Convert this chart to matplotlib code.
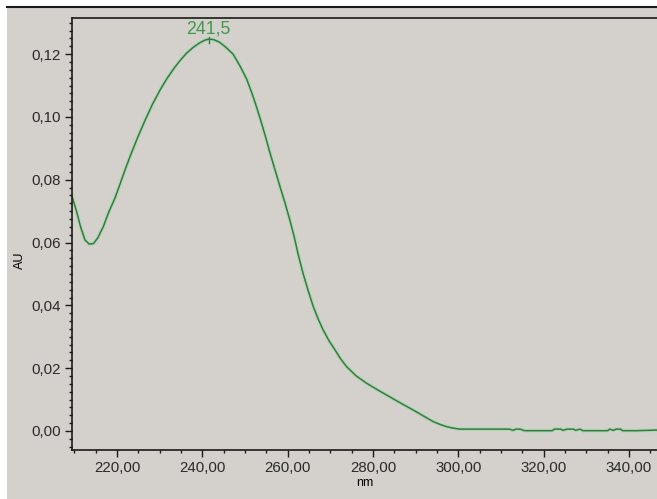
import matplotlib
matplotlib.use("Agg")
import matplotlib.pyplot as plt
from matplotlib.patches import Rectangle
from matplotlib.lines import Line2D
from matplotlib.ticker import MultipleLocator, FuncFormatter

# UV absorbance spectrum (wavelength in nm, absorbance in AU)
wavelength = [209.5, 210.5, 211.5, 212.5, 213.5, 214.5, 215.5, 216.8, 218.0, 219.5,
              220.7, 222.0, 223.4, 225.0, 226.6, 228.3, 230.1, 231.6, 233.2, 234.8,
              236.3, 237.9, 239.4, 240.5, 241.5, 242.7, 244.0, 245.5, 247.2, 248.8,
              250.4, 251.5, 252.5, 253.5, 254.7, 255.8, 257.0, 258.2, 259.4, 260.5,
              261.5, 262.5, 263.6, 264.8, 266.0, 267.2, 268.3, 269.7, 271.1, 272.4,
              273.8, 276.0, 278.5, 281.2, 283.9, 286.6, 289.4, 291.8, 294.1, 295.7,
              297.2, 298.8, 300.3, 302.0, 306.0, 310.0, 312.0, 312.8, 313.5, 314.5,
              315.5, 318.0, 322.0, 322.5, 324.0, 324.5, 325.5, 327.0, 327.5, 328.5,
              329.2, 332.0, 335.0, 335.5, 336.3, 337.0, 338.0, 338.5, 342.0, 346.6]
absorbance = [0.0745, 0.0700, 0.0648, 0.0608, 0.0595, 0.0597, 0.0615, 0.0651, 0.0695, 0.0741,
              0.0786, 0.0836, 0.0886, 0.0940, 0.0990, 0.1040, 0.1086, 0.1120, 0.1152, 0.1180,
              0.1203, 0.1222, 0.1236, 0.1244, 0.1248, 0.1246, 0.1238, 0.1222, 0.1200, 0.1163,
              0.1120, 0.1080, 0.1040, 0.0997, 0.0942, 0.0888, 0.0833, 0.0778, 0.0725, 0.0672,
              0.0620, 0.0560, 0.0502, 0.0447, 0.0396, 0.0355, 0.0322, 0.0287, 0.0258, 0.0230,
              0.0205, 0.0176, 0.0152, 0.0130, 0.0109, 0.0088, 0.0067, 0.0048, 0.0030, 0.0021,
              0.0014, 0.0009, 0.0006, 0.0006, 0.0006, 0.0006, 0.0006, 0.0002, 0.0006, 0.0006,
              0.0001, 0.0001, 0.0001, 0.0006, 0.0006, 0.0002, 0.0006, 0.0006, 0.0002, 0.0006,
              0.0001, 0.0001, 0.0001, 0.0006, 0.0002, 0.0006, 0.0006, 0.0001, 0.0001, 0.0003]
peak_nm = 241.5
peak_au = 0.1248
peak_label = "241,5"

bg = "#d4d1cc"
line_core = "#357a40"
line_halo = "#a9d8ae"
label_green = "#43984f"

plt.rcParams["font.family"] = ["Liberation Sans", "DejaVu Sans"]

W, H = 657, 499
fig = plt.figure(figsize=(W / 100, H / 100), dpi=100, facecolor=bg)

# white margins and the dark rule along the top of the window
fig.patches.append(Rectangle((0, 1 - 5.5 / H), 1, 5.5 / H, transform=fig.transFigure,
                             facecolor="white", edgecolor="none", zorder=0))
fig.patches.append(Rectangle((0, 0), 7 / W, 1, transform=fig.transFigure,
                             facecolor="white", edgecolor="none", zorder=0))
fig.lines.append(Line2D([7 / W, 1], [1 - 6.5 / H, 1 - 6.5 / H], transform=fig.transFigure,
                        color="#1a1a1a", lw=1.5))

ax = fig.add_axes([72 / W, 1 - 450 / H, 1 - 72 / W, (450 - 18) / H])
ax.set_facecolor(bg)

ax.plot(wavelength, absorbance, color=line_halo, lw=2.8, alpha=0.75, solid_joinstyle="round")
ax.plot(wavelength, absorbance, color=line_core, lw=1.1, solid_joinstyle="round")

ax.annotate(peak_label, xy=(peak_nm, peak_au), xytext=(0, 1.0), textcoords="offset points",
            ha="center", va="bottom", fontsize=12.8, color=label_green)
ax.plot([peak_nm, peak_nm], [peak_au - 0.0012, peak_au + 0.0006], color=line_core, lw=1)

ax.set_xlim(209.45, 346.56)
ax.set_ylim(-0.00605, 0.1315)

ax.xaxis.set_major_locator(MultipleLocator(20))
ax.xaxis.set_minor_locator(MultipleLocator(5))
ax.yaxis.set_major_locator(MultipleLocator(0.02))
ax.yaxis.set_minor_locator(MultipleLocator(0.0025))
ax.xaxis.set_major_formatter(FuncFormatter(lambda v, p: f"{v:.2f}".replace(".", ",")))
ax.yaxis.set_major_formatter(FuncFormatter(lambda v, p: f"{v:.2f}".replace(".", ",")))

ax.tick_params(axis="both", which="major", direction="out", length=5, width=1,
               labelsize=10.8, colors="#1a1a1a", pad=3)
ax.tick_params(axis="both", which="minor", direction="out", length=2.5, width=1,
               colors="#1a1a1a")
for lbl in ax.get_xticklabels() + ax.get_yticklabels():
    lbl.set_color("#2a2a2a")

for side in ("left", "bottom", "top"):
    ax.spines[side].set_color("#1a1a1a")
    ax.spines[side].set_linewidth(1.2)
ax.spines["right"].set_visible(False)

ax.set_xlabel("nm", fontsize=9, labelpad=1)
ax.set_ylabel("AU", fontsize=9)
ax.yaxis.set_label_coords(-0.078, 0.44)

fig.savefig("out.png", dpi=100, facecolor=bg)
